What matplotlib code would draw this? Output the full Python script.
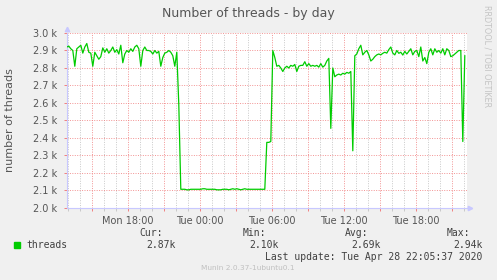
import numpy as np
import pandas as pd
import matplotlib
matplotlib.use('Agg')
import matplotlib.pyplot as plt
import matplotlib.dates as mdates
from matplotlib.ticker import FuncFormatter, MultipleLocator

## threads sampled every 10 min, Mon 12:54 .. Tue 22:04
start = '2020-04-27 12:54'
threads = [
    2920, 2925, 2910, 2900, 2810, 2910, 2920, 2930, 2885, 2920,
    2940, 2890, 2885, 2810, 2890, 2870, 2850, 2865, 2915, 2890,
    2910, 2885, 2900, 2920, 2890, 2905, 2880, 2930, 2830, 2880,
    2900, 2890, 2910, 2895, 2920, 2930, 2910, 2810, 2900, 2920,
    2900, 2900, 2895, 2880, 2900, 2885, 2895, 2810, 2860, 2885,
    2890, 2900, 2890, 2870, 2810, 2890, 2590,
    2107, 2107, 2107, 2104, 2104, 2107, 2107, 2107, 2107, 2107,
    2107, 2110, 2110, 2107, 2107, 2107, 2107, 2107, 2104, 2104,
    2104, 2107, 2107, 2107, 2104, 2107, 2110, 2107, 2110, 2107,
    2104, 2107, 2110, 2107, 2107, 2107, 2107, 2107, 2107, 2107,
    2107, 2107, 2107,
    2375, 2375, 2380, 2900, 2860,
    2810, 2815, 2800, 2780, 2800, 2810, 2800, 2815, 2810, 2820,
    2780, 2810, 2815, 2815, 2836, 2810, 2825, 2810, 2815, 2810,
    2815, 2805, 2825, 2805, 2815, 2840, 2855,
    2455, 2800, 2750, 2760, 2765, 2760, 2770, 2765, 2775, 2770,
    2780, 2327, 2870,
    2880, 2910, 2930, 2875, 2890, 2900, 2875, 2840, 2850, 2865,
    2875, 2880, 2875, 2884, 2890, 2885, 2905, 2920, 2885, 2875,
    2900, 2884, 2890, 2874, 2895, 2880, 2895, 2910, 2875, 2895,
    2900, 2865, 2920, 2840, 2860, 2825, 2890, 2910, 2875, 2910,
    2890, 2900, 2885, 2910, 2875, 2910, 2900, 2865, 2870, 2880,
    2890, 2900, 2900, 2380, 2870,
]
times = pd.date_range(start, periods=len(threads), freq='10min')
y_ticks = [2000, 2100, 2200, 2300, 2400, 2500, 2600, 2700, 2800, 2900, 3000]
last_update = 'Last update: Tue Apr 28 22:05:37 2020'

W, H = 497, 280
fig = plt.figure(figsize=(W / 100, H / 100), dpi=100, facecolor='#f0f0f0')
ax = fig.add_axes([66.5 / W, 1 - 208 / H, 401 / W, 175 / H], facecolor='white')

ax.plot(times, threads, color='#00cc00', lw=0.9, zorder=3)

ax.set_xlim(pd.Timestamp('2020-04-27 12:52:30'), pd.Timestamp('2020-04-28 22:17:30'))
ax.set_ylim(2000, 3000)

## x axis: red every 3 h, grey every hour, labels every 6 h
ax.xaxis.set_major_locator(mdates.HourLocator(byhour=range(0, 24, 3)))
ax.xaxis.set_minor_locator(mdates.HourLocator())
def xfmt(x, pos):
    d = mdates.num2date(x)
    return d.strftime('%a %H:%M') if d.hour % 6 == 0 else ''
ax.xaxis.set_major_formatter(FuncFormatter(xfmt))

ax.set_yticks(y_ticks)
ax.yaxis.set_major_formatter(FuncFormatter(lambda v, p: f'{v / 1000:.1f} k'))

ax.grid(True, which='major', color='#f08080', lw=0.7, ls=(0, (1, 1.5)), alpha=0.85)
ax.grid(True, which='minor', axis='x', color='#c8c8c8', lw=0.7, ls=(0, (1, 1.5)))
ax.set_axisbelow(True)

ax.tick_params(which='major', length=2.5, width=0.7, color='#f08080',
               labelsize=7, labelcolor='#555555', pad=3)
ax.tick_params(which='minor', length=2, width=0.7, color='#c8c8c8')
ax.tick_params(axis='y', pad=4)

for s in ['top', 'right']:
    ax.spines[s].set_visible(False)
for s in ['left', 'bottom']:
    ax.spines[s].set_color('#c8c8ff')
    ax.spines[s].set_linewidth(0.8)
ax.plot([0], [1.025], marker='^', ms=3.2, color='#c8c8ff', transform=ax.transAxes, clip_on=False)
ax.plot([1.006], [0], marker='>', ms=3.2, color='#c8c8ff', transform=ax.transAxes, clip_on=False)

def px(x, y):
    return x / W, 1 - y / H

fig.text(*px(248, 13), 'Number of threads - by day', ha='center', va='center',
         fontsize=9, color='#555555')
fig.text(*px(10, 120), 'number of threads', ha='center', va='center', rotation=90,
         fontsize=8, color='#555555')
fig.text(*px(487.5, 56), 'RRDTOOL / TOBI OETIKER', ha='center', va='center', rotation=-90,
         fontsize=5.8, color='#c4c4c4')

## legend and stats
mono = dict(family='DejaVu Sans Mono', fontsize=7, color='#404040', va='center')
fig.patches.append(plt.Rectangle(px(14, 247.7), 6 / W, 5.5 / H, color='#00cc00',
                                 transform=fig.transFigure, figure=fig))
fig.text(*px(26.7, 245), 'threads', ha='left', **mono)

cur = threads[-1]
mn = min(threads)
avg = np.mean(threads)
mx = max(threads)
cols = [('Cur:', cur, 163, 175.7), ('Min:', mn, 266, 279),
        ('Avg:', avg, 368.3, 380.7), ('Max:', mx, 470, 482.7)]
for name, v, xh, xv in cols:
    fig.text(*px(xh, 232.7), name, ha='right', **mono)
    fig.text(*px(xv, 245), f'{v / 1000:.2f}k', ha='right', **mono)
fig.text(*px(482.7, 256.7), last_update, ha='right', **mono)
fig.text(*px(248, 268.3), 'Munin 2.0.37-1ubuntu0.1', ha='center', va='center',
         fontsize=5.3, color='#c0c0c0')

fig.savefig('out.png', dpi=100, facecolor=fig.get_facecolor())
